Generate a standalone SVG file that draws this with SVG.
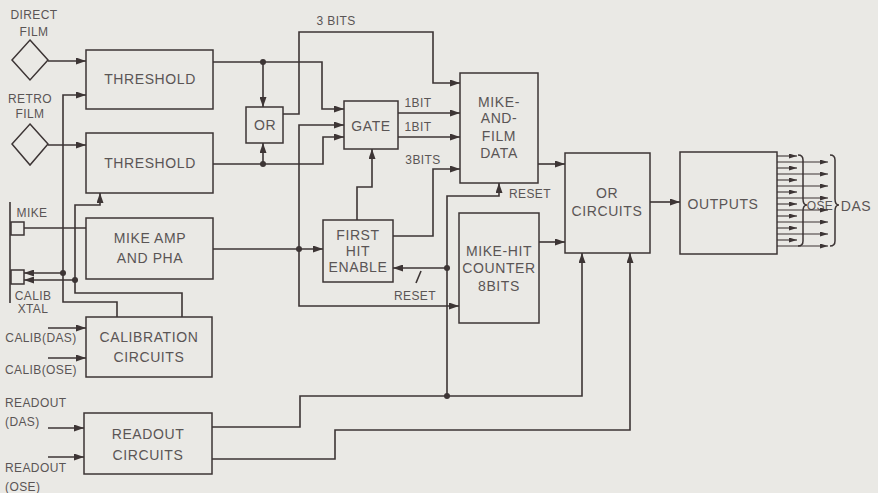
<svg xmlns="http://www.w3.org/2000/svg" width="878" height="493" viewBox="0 0 878 493">
<defs>
<marker id="ah" markerWidth="10" markerHeight="7" refX="10" refY="3.5" orient="auto" markerUnits="userSpaceOnUse">
<path d="M0,0 L10,3.5 L0,7 z" fill="#3d3535"/>
</marker>
<marker id="ahs" markerWidth="8" markerHeight="5" refX="8" refY="2.5" orient="auto" markerUnits="userSpaceOnUse">
<path d="M0,0 L8,2.5 L0,5 z" fill="#3d3535"/>
</marker>
</defs>
<style>
.bx{fill:none;stroke:#3d3535;stroke-width:1.5}
.ln{fill:none;stroke:#3d3535;stroke-width:1.6}
.ar{marker-end:url(#ah)}
.oa{fill:none;stroke:#3d3535;stroke-width:1.1;marker-end:url(#ahs)}
.dot{fill:#3d3535}
text{font-family:"Liberation Sans",Arial,sans-serif;fill:#5a5555;text-anchor:middle}
.t{font-size:14px;letter-spacing:0.6px}
.s{font-size:12px;letter-spacing:0.4px}
</style>
<rect width="878" height="493" fill="#eae9e5"/>

<g id="direct-film">
<path class="bx" d="M30,40 L48,60 L30,80 L12,60 z"/>
<text class="s" x="34" y="19">DIRECT</text>
<text class="s" x="34" y="36">FILM</text>
</g>
<g id="retro-film">
<path class="bx" d="M30,124 L48,144 L30,165 L12,144 z"/>
<text class="s" x="30" y="103">RETRO</text>
<text class="s" x="30" y="118">FILM</text>
</g>
<g id="threshold1">
<rect class="bx" x="86" y="50" width="127" height="59"/>
<text class="t" x="150" y="84">THRESHOLD</text>
</g>
<g id="threshold2">
<rect class="bx" x="86" y="133" width="127" height="60"/>
<text class="t" x="150" y="168">THRESHOLD</text>
</g>
<g id="or">
<rect class="bx" x="246" y="107" width="37" height="36"/>
<text class="t" x="265" y="130">OR</text>
</g>
<g id="mike-xtal">
<path class="ln" d="M10,202 V303"/>
<rect class="bx" x="11" y="222" width="13" height="13"/>
<rect class="bx" x="11" y="270" width="13" height="14"/>
<text class="s" x="32" y="217">MIKE</text>
<text class="s" x="33" y="300">CALIB</text>
<text class="s" x="33" y="313">XTAL</text>
</g>
<g id="mike-amp">
<rect class="bx" x="86" y="218" width="127" height="61"/>
<text class="t" x="150" y="243">MIKE AMP</text>
<text class="t" x="150" y="263">AND PHA</text>
</g>
<g id="calibration">
<rect class="bx" x="86" y="317" width="126" height="60"/>
<text class="t" x="149" y="342">CALIBRATION</text>
<text class="t" x="149" y="362">CIRCUITS</text>
<text class="s" x="41" y="342">CALIB(DAS)</text>
<text class="s" x="41" y="374">CALIB(OSE)</text>
</g>
<g id="readout">
<rect class="bx" x="84" y="413" width="128" height="61"/>
<text class="t" x="148" y="439">READOUT</text>
<text class="t" x="148" y="460">CIRCUITS</text>
<text class="s" x="5" y="407" style="text-anchor:start">READOUT</text>
<text class="s" x="5" y="426" style="text-anchor:start">(DAS)</text>
<text class="s" x="5" y="472" style="text-anchor:start">READOUT</text>
<text class="s" x="5" y="491" style="text-anchor:start">(OSE)</text>
</g>
<g id="gate">
<rect class="bx" x="344" y="101" width="54" height="48"/>
<text class="t" x="371" y="131">GATE</text>
</g>
<g id="mike-film-data">
<rect class="bx" x="460" y="73" width="78" height="110"/>
<text class="t" x="499" y="107">MIKE-</text>
<text class="t" x="499" y="123">AND-</text>
<text class="t" x="499" y="141">FILM</text>
<text class="t" x="499" y="158">DATA</text>
</g>
<g id="first-hit-enable">
<rect class="bx" x="323" y="220" width="70" height="62"/>
<text class="t" x="358" y="240">FIRST</text>
<text class="t" x="358" y="256">HIT</text>
<text class="t" x="358" y="272">ENABLE</text>
</g>
<g id="mike-hit-counter">
<rect class="bx" x="459" y="213" width="80" height="110"/>
<text class="t" x="499" y="256">MIKE-HIT</text>
<text class="t" x="499" y="273">COUNTER</text>
<text class="t" x="499" y="291">8BITS</text>
</g>
<g id="or-circuits">
<rect class="bx" x="565" y="153" width="85" height="100"/>
<text class="t" x="607" y="198">OR</text>
<text class="t" x="607" y="216">CIRCUITS</text>
</g>
<g id="outputs">
<rect class="bx" x="680" y="152" width="97" height="102"/>
<text class="t" x="723" y="209">OUTPUTS</text>
<path class="bx" d="M798,155 Q803,155 803,160 V199 Q803,205 807,205 Q803,205 803,211 V241 Q803,246 798,246"/>
<path class="bx" d="M830,155 Q835,155 835,160 V199 Q835,205 839,205 Q835,205 835,211 V241 Q835,246 830,246"/>
<text class="s" x="820" y="210">OSE</text>
<text class="t" x="856" y="211">DAS</text>
</g>

<g id="connectors">
<path class="ln ar" d="M48,61 H86"/>
<path class="ln ar" d="M48,145 H86"/>
<path class="ln ar" d="M117,317 V302 H63 V95 H86"/>
<path class="ln ar" d="M63,273 H24"/>
<path class="ln ar" d="M182,317 V293 H75 V205 H100 V193"/>
<path class="ln ar" d="M75,280 H24"/>
<path class="ln" d="M24,228 H86"/>
<path class="ln ar" d="M48,328 H86"/>
<path class="ln ar" d="M48,358 H86"/>
<path class="ln ar" d="M48,428 H84"/>
<path class="ln ar" d="M48,457 H84"/>
<path class="ln ar" d="M212,427 H300 V396 H582 V253"/>
<path class="ln ar" d="M212,459 H335 V430 H630 V253"/>
<path class="ln ar" d="M447,396 V196 H499 V183"/>
<path class="ln ar" d="M447,268 H393"/>
<path class="ln" d="M416,283 L421,271"/>
<path class="ln ar" d="M213,62 H322 V109 H344"/>
<path class="ln ar" d="M263,62 V107"/>
<path class="ln ar" d="M213,164 H323 V137 H344"/>
<path class="ln ar" d="M263,164 V143"/>
<path class="ln ar" d="M283,114 H299 V32 H433 V83 H460"/>
<path class="ln ar" d="M213,249 H323"/>
<path class="ln ar" d="M299,249 V125 H344"/>
<path class="ln ar" d="M299,249 V306 H459"/>
<path class="ln ar" d="M357,220 V187 H372 V149"/>
<path class="ln ar" d="M393,236 H433 V169 H460"/>
<path class="ln ar" d="M398,113 H460"/>
<path class="ln ar" d="M398,137 H460"/>
<path class="ln ar" d="M538,164 H565"/>
<path class="ln ar" d="M539,242 H565"/>
<path class="ln ar" d="M650,202 H680"/>
<path class="oa" d="M777,156 H797"/>
<path class="oa" d="M777,162 H828"/>
<path class="oa" d="M777,168 H797"/>
<path class="oa" d="M777,174 H828"/>
<path class="oa" d="M777,180 H797"/>
<path class="oa" d="M777,186 H828"/>
<path class="oa" d="M777,192 H797"/>
<path class="oa" d="M777,198 H828"/>
<path class="oa" d="M777,204 H797"/>
<path class="oa" d="M777,210 H828"/>
<path class="oa" d="M777,216 H797"/>
<path class="oa" d="M777,222 H828"/>
<path class="oa" d="M777,228 H797"/>
<path class="oa" d="M777,234 H828"/>
<path class="oa" d="M777,240 H797"/>
<path class="oa" d="M777,246 H828"/>
<circle class="dot" cx="63" cy="273" r="3"/>
<circle class="dot" cx="75" cy="280" r="3"/>
<circle class="dot" cx="263" cy="62" r="3"/>
<circle class="dot" cx="263" cy="164" r="3"/>
<circle class="dot" cx="299" cy="249" r="3"/>
<circle class="dot" cx="447" cy="268" r="3"/>
<circle class="dot" cx="447" cy="396" r="3"/>
<text class="s" x="336" y="25">3 BITS</text>
<text class="s" x="418" y="107">1BIT</text>
<text class="s" x="418" y="131">1BIT</text>
<text class="s" x="423" y="164">3BITS</text>
<text class="s" x="530" y="198">RESET</text>
<text class="s" x="415" y="300">RESET</text>
</g>
</svg>
